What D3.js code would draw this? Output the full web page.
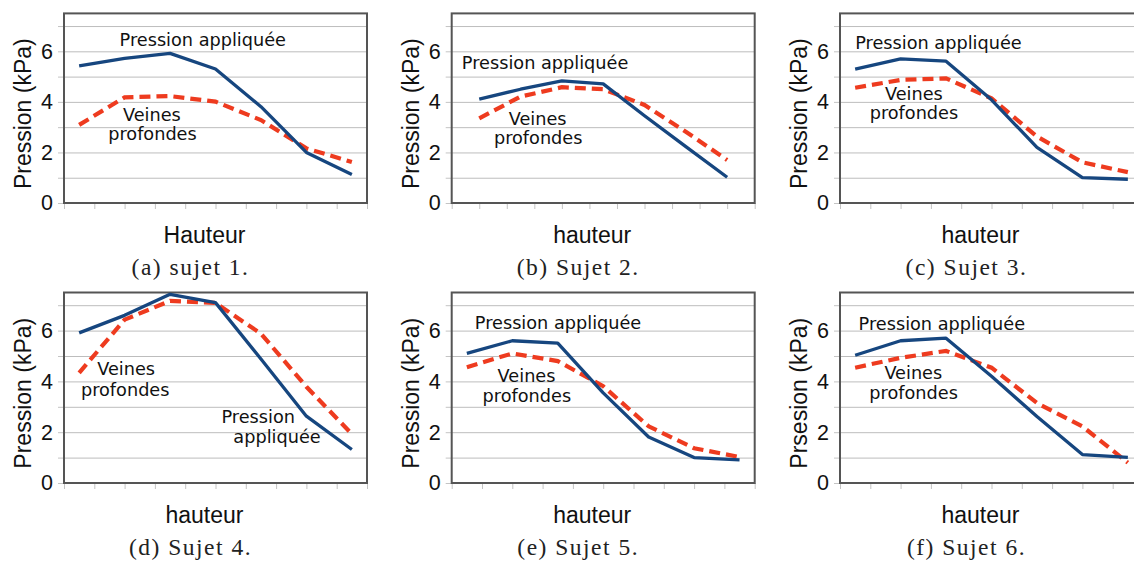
<!DOCTYPE html>
<html>
<head>
<meta charset="utf-8">
<script src="https://cdn.jsdelivr.net/npm/d3@7"></script>
<style>
  html, body { margin: 0; padding: 0; background: #fff; }
  svg { display: block; }
</style>
</head>
<body>
<svg id="chart" width="1134" height="563"></svg>
<script>
// ---------- data ----------
const captions = ["(a) sujet 1.", "(b) Sujet 2.", "(c) Sujet 3.", "(d) Sujet 4.", "(e) Sujet 5.", "(f) Sujet 6."];
const yTitles = ["Pression (kPa)", "Pression (kPa)", "Pression (kPa)", "Pression (kPa)", "Pression (kPa)", "Prsesion (kPa)"];
const xTitles = ["Hauteur", "hauteur", "hauteur", "hauteur", "hauteur", "hauteur"];
const yTicks = [0, 2, 4, 6];
const yMinorTicks = [0, 1, 2, 3, 4, 5, 6, 7];
const yMax = 7.5;
// number of category intervals along the "hauteur" axis for each panel
const xIntervals = [10, 11, 10, 10, 10, 10];
// position of the 7 measurement points along the hauteur axis
const hauteur = [
  [0.5, 2, 3.5, 5, 6.5, 8, 9.5],
  [1, 2.5, 4, 5.5, 7, 8.5, 10],
  [0.5, 2, 3.5, 5, 6.5, 8, 9.5],
  [0.5, 2, 3.5, 5, 6.5, 8, 9.5],
  [0.5, 2, 3.5, 5, 6.5, 8, 9.5],
  [0.5, 2, 3.5, 5, 6.5, 8, 9.5]
];
// "Pression appliquée" (solid blue)
const appliquee = [
  [5.42, 5.72, 5.92, 5.30, 3.81, 2.00, 1.13],
  [4.11, 4.50, 4.83, 4.71, 3.45, 2.23, 1.02],
  [5.30, 5.70, 5.61, 4.08, 2.20, 1.00, 0.94],
  [5.91, 6.60, 7.43, 7.10, 4.88, 2.63, 1.32],
  [5.10, 5.60, 5.51, 3.55, 1.81, 1.00, 0.91],
  [5.03, 5.60, 5.70, 4.20, 2.62, 1.12, 1.01]
];
// "Veines profondes" (dashed red)
const profondes = [
  [3.09, 4.18, 4.23, 4.01, 3.28, 2.16, 1.62],
  [3.35, 4.21, 4.58, 4.50, 3.88, 2.82, 1.70],
  [4.56, 4.87, 4.93, 4.14, 2.63, 1.61, 1.22],
  [4.34, 6.43, 7.17, 7.09, 5.88, 3.79, 1.93],
  [4.56, 5.10, 4.80, 3.81, 2.23, 1.37, 1.02],
  [4.54, 4.93, 5.20, 4.54, 3.15, 2.23, 0.80]
];
// in-plot annotations: [panel, text, hauteur position, pressure value]
const annotations = [
  [0, "Pression appliquée", 4.58, 6.22], [0, "Veines", 2.90, 3.24], [0, "profondes", 2.92, 2.49],
  [1, "Pression appliquée", 3.39, 5.30], [1, "Veines", 3.12, 3.09], [1, "profondes", 3.14, 2.33],
  [2, "Pression appliquée", 3.25, 6.08], [2, "Veines", 2.44, 4.07], [2, "profondes", 2.44, 3.32],
  [3, "Veines", 2.05, 4.25], [3, "profondes", 2.02, 3.44], [3, "Pression", 6.41, 2.35], [3, "appliquée", 7.03, 1.57],
  [4, "Pression appliquée", 3.51, 6.05], [4, "Veines", 2.47, 3.99], [4, "profondes", 2.48, 3.19],
  [5, "Pression appliquée", 3.36, 6.02], [5, "Veines", 2.42, 4.09], [5, "profondes", 2.43, 3.31]
];

// ---------- layout ----------
const colLeft = [64, 451.7, 840];
const frameW = 303;
const rowTop = [13.4, 292.5];
const rowBottom = [203, 483];

const svg = d3.select("#chart");
svg.append("rect").attr("width", 1134).attr("height", 563).attr("fill", "#fff");

const sansAxis = "'Liberation Sans', Arial, sans-serif";
const sansNote = "'DejaVu Sans', sans-serif";
const serif = "'Liberation Serif', 'Times New Roman', serif";

captions.forEach((cap, p) => {
  const col = p % 3, row = Math.floor(p / 3);
  const left = colLeft[col], right = left + frameW;
  const top = rowTop[row], bottom = rowBottom[row];
  const cx = (left + right) / 2;

  const x = d3.scaleLinear().domain([0, xIntervals[p]]).range([left, right]);
  const y = d3.scaleLinear().domain([0, yMax]).range([bottom, top]);

  const g = svg.append("g");

  // grid lines
  const grid = d3.axisLeft(y).tickValues(yMinorTicks.filter(v => v > 0)).tickSize(-(right - left)).tickFormat("");
  g.append("g").attr("transform", `translate(${left},0)`).call(grid)
    .call(s => s.select(".domain").remove())
    .call(s => s.selectAll("line").attr("stroke", "#bdbdbd").attr("stroke-width", 1));

  // small outer ticks on the left
  const yt = d3.axisLeft(y).tickValues(yMinorTicks).tickSize(6).tickFormat("");
  g.append("g").attr("transform", `translate(${left},0)`).call(yt)
    .call(s => s.select(".domain").remove())
    .call(s => s.selectAll("line").attr("stroke", "#c4c4c4").attr("stroke-width", 1));

  // y tick labels
  const yl = d3.axisLeft(y).tickValues(yTicks).tickSize(0).tickPadding(11).tickFormat(d3.format("d"));
  g.append("g").attr("transform", `translate(${left},0)`).call(yl)
    .call(s => s.select(".domain").remove())
    .call(s => s.selectAll("text").attr("font-family", sansAxis).attr("font-size", 21.5).attr("fill", "#111"));

  // x ticks below axis
  const xt = d3.axisBottom(x).tickValues(d3.range(0, xIntervals[p] + 1)).tickSize(6).tickFormat("");
  g.append("g").attr("transform", `translate(0,${bottom})`).call(xt)
    .call(s => s.select(".domain").remove())
    .call(s => s.selectAll("line").attr("stroke", "#c4c4c4").attr("stroke-width", 1));

  // frame
  g.append("rect").attr("x", left).attr("y", top).attr("width", right - left).attr("height", bottom - top)
    .attr("fill", "none").attr("stroke", "#555").attr("stroke-width", 2);

  // lines
  const line = d3.line().x(d => x(d[0])).y(d => y(d[1]));
  g.append("path").datum(d3.zip(hauteur[p], profondes[p])).attr("d", line)
    .attr("fill", "none").attr("stroke", "#ee3b1f").attr("stroke-width", 4.2)
    .attr("stroke-dasharray", "11,6");
  g.append("path").datum(d3.zip(hauteur[p], appliquee[p])).attr("d", line)
    .attr("fill", "none").attr("stroke", "#16467f").attr("stroke-width", 3.3)
    .attr("stroke-linejoin", "round");

  // annotations
  annotations.filter(a => a[0] === p).forEach(a => {
    g.append("text").attr("x", x(a[2])).attr("y", y(a[3]))
      .attr("text-anchor", "middle").attr("font-family", sansNote).attr("font-size", 17.7)
      .attr("fill", "#111").text(a[1]);
  });

  // axis titles
  g.append("text").attr("transform", `translate(${left - 33},${(top + bottom) / 2 + 5.5}) rotate(-90)`)
    .attr("text-anchor", "middle").attr("font-family", sansAxis).attr("font-size", 23)
    .attr("fill", "#111").text(yTitles[p]);
  g.append("text").attr("x", cx - 11).attr("y", bottom + 39.5)
    .attr("text-anchor", "middle").attr("font-family", sansAxis).attr("font-size", 23)
    .attr("fill", "#111").text(xTitles[p]);

  // caption
  g.append("text").attr("x", cx - 25).attr("y", bottom + 72)
    .attr("text-anchor", "middle").attr("font-family", serif).attr("font-size", 23.5)
    .attr("letter-spacing", 1.5).attr("fill", "#222").text(cap);
});
</script>
</body>
</html>
